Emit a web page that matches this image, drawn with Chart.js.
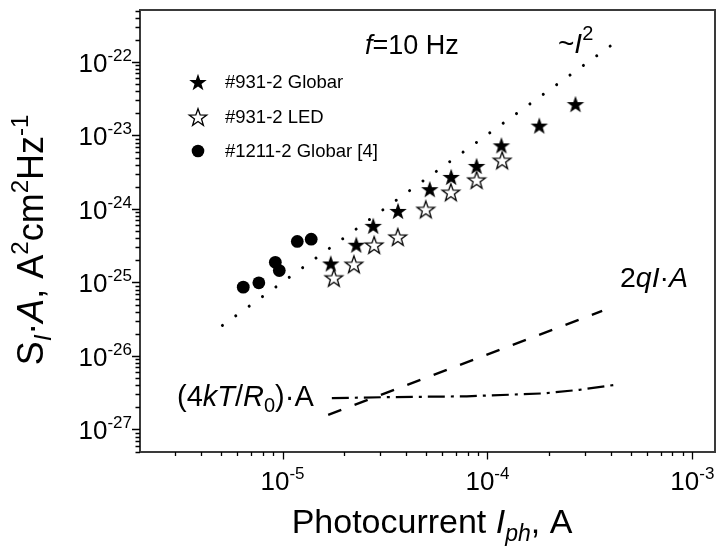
<!DOCTYPE html>
<html><head><meta charset="utf-8">
<script src="https://cdn.jsdelivr.net/npm/chart.js@4/dist/chart.umd.min.js"></script>
<style>html,body{margin:0;padding:0;background:#fff}#wrap{width:725px;height:551px;position:relative}canvas{display:block}</style>
</head><body><div id="wrap"><canvas id="c" width="725" height="551" style="width:725px;height:551px"></canvas></div>
<script>
// ---- data ----
const globarI = [1.72e-5, 2.29e-5, 2.77e-5, 3.66e-5, 5.23e-5, 6.65e-5, 8.85e-5, 1.17e-4, 1.79e-4, 2.69e-4];
const globarS = [1.81e-25, 3.26e-25, 5.89e-25, 9.4e-25, 1.86e-24, 2.73e-24, 3.85e-24, 7.33e-24, 1.36e-23, 2.67e-23];
const ledI = [1.78e-5, 2.23e-5, 2.80e-5, 3.65e-5, 5.0e-5, 6.63e-5, 8.85e-5, 1.18e-4];
const ledS = [1.16e-25, 1.77e-25, 3.24e-25, 4.16e-25, 9.9e-25, 1.69e-24, 2.49e-24, 4.6e-24];
const g1211I = [6.43e-6, 7.66e-6, 9.22e-6, 9.64e-6, 1.18e-5, 1.38e-5];
const g1211S = [8.63e-26, 9.88e-26, 1.88e-25, 1.45e-25, 3.61e-25, 3.88e-25];
const squareLawI = [3.97e-4, 5.06e-6];
const squareLawS = [1.64e-22, 2.57e-26];
const shotI = [1.67e-5, 3.63e-4];
const shotS = [1.58e-27, 4.09e-26];
const thermalI = [1.74e-5, 3.22e-5, 7.92e-5, 1.87e-4, 2.81e-4, 4.25e-4];
const thermalS = [2.66e-27, 2.75e-27, 2.82e-27, 3.09e-27, 3.46e-27, 4.06e-27];
const seriesLabels = ['#931-2 Globar', '#931-2 LED', '#1211-2 Globar [4]'];
const xTickExponents = [-5, -4, -3];
const yTickExponents = [-27, -26, -25, -24, -23, -22];

const FONT = '"Liberation Sans", Arial, Helvetica, sans-serif';
const pts = (xs, ys) => xs.map((x, i) => ({x, y: ys[i]}));

function starImg(filled) {
  const s = 22, c = document.createElement('canvas');
  c.width = s; c.height = s;
  const g = c.getContext('2d');
  const R = 9.2, r = R * 0.40;
  const cx = s / 2, cy = s / 2 + 0.0955 * R;
  g.beginPath();
  for (let i = 0; i < 10; i++) {
    const a = -Math.PI / 2 + i * Math.PI / 5;
    const rr = i % 2 ? r : R;
    const px = cx + rr * Math.cos(a), py = cy + rr * Math.sin(a);
    i ? g.lineTo(px, py) : g.moveTo(px, py);
  }
  g.closePath();
  if (filled) { g.fillStyle = '#000'; g.fill(); }
  else { g.fillStyle = '#fff'; g.fill(); g.lineWidth = 1.3; g.strokeStyle = '#000'; g.lineJoin = 'miter'; g.stroke(); }
  return c;
}
const starFilled = starImg(true), starOpen = starImg(false);

// dotted pattern whose period fits the line length, so both ends carry a dot
function dotPattern(c) {
  const ch = c.chart, xs = ch.scales && ch.scales.x, ys = ch.scales && ch.scales.y;
  if (!xs || !ys || !isFinite(xs.getPixelForValue(squareLawI[0]))) return [0.01, 16.6];
  const dx = xs.getPixelForValue(squareLawI[1]) - xs.getPixelForValue(squareLawI[0]);
  const dy = ys.getPixelForValue(squareLawS[1]) - ys.getPixelForValue(squareLawS[0]);
  const L = Math.hypot(dx, dy);
  if (!(L > 20)) return [0.01, 16.6];
  const n = Math.round(L / 16.6);
  return [0.01, (L - 0.6) / n - 0.01];
}

function seg(t, size, opt) { return Object.assign({t, size}, opt || {}); }
function rich(ctx, segs, x, y, align) {
  let w = 0;
  const f = s => (s.it ? 'italic ' : '') + s.size + 'px ' + FONT;
  segs.forEach(s => { ctx.font = f(s); s.w = ctx.measureText(s.t).width; w += s.w; });
  let cx = align === 'center' ? x - w / 2 : align === 'right' ? x - w : x;
  ctx.textAlign = 'left'; ctx.textBaseline = 'alphabetic';
  segs.forEach(s => { ctx.font = f(s); ctx.fillText(s.t, cx, y + (s.dy || 0)); cx += s.w; });
}

const decor = {
  id: 'decor',
  afterDraw(chart) {
    const {ctx, chartArea: a, scales: {x, y}} = chart;
    ctx.save();
    ctx.fillStyle = '#000';
    ctx.strokeStyle = '#3a3a3a'; ctx.lineWidth = 2;
    ctx.strokeRect(a.left, a.top, a.right - a.left, a.bottom - a.top);
    ctx.strokeStyle = '#000'; ctx.lineWidth = 1.3;
    const logTicks = (sc) => {
      const out = [];
      for (let e = Math.floor(Math.log10(sc.min)); e <= Math.ceil(Math.log10(sc.max)); e++)
        for (let m = 1; m <= 9; m++) { const v = m * Math.pow(10, e); if (v >= sc.min * 0.999 && v <= sc.max * 1.001) out.push({v, major: m === 1}); }
      return out;
    };
    ctx.beginPath();
    logTicks(x).forEach(t => { const px = Math.round(x.getPixelForValue(t.v)) + 0.5; ctx.moveTo(px, a.bottom); ctx.lineTo(px, a.bottom + (t.major ? 7.5 : 4)); });
    logTicks(y).forEach(t => { const py = Math.round(y.getPixelForValue(t.v)) + 0.5; ctx.moveTo(a.left, py); ctx.lineTo(a.left - (t.major ? 8 : 4.5), py); });
    ctx.stroke();
    xTickExponents.forEach(e => {
      const px = x.getPixelForValue(Math.pow(10, e));
      rich(ctx, [seg('10', 26), seg(String(e), 17, {dy: -11})], px, 490, 'center');
    });
    yTickExponents.forEach(e => {
      const py = y.getPixelForValue(Math.pow(10, e));
      rich(ctx, [seg('10', 26), seg(String(e), 17, {dy: -11})], 132, py + 10, 'right');
    });
    rich(ctx, [seg('Photocurrent ', 34), seg('I', 34, {it: true}), seg('ph', 23, {it: true, dy: 8}), seg(', A', 34)], 432, 533, 'center');
    ctx.save();
    ctx.translate(43, 240);
    ctx.rotate(-Math.PI / 2);
    rich(ctx, [seg('S', 36), seg('I', 24, {it: true, dy: 8}), seg('·', 36), seg('A', 36, {it: true}), seg(', A', 36), seg('2', 24, {dy: -15}), seg('cm', 36), seg('2', 24, {dy: -15}), seg('Hz', 36), seg('-1', 24, {dy: -15})], 0, 0, 'center');
    ctx.restore();
    rich(ctx, [seg('f', 27, {it: true}), seg('=10 Hz', 27)], 365, 54, 'left');
    rich(ctx, [seg('~', 28), seg('I', 28, {it: true}), seg('2', 20, {dy: -13})], 558, 53, 'left');
    rich(ctx, [seg('2', 28.5), seg('qI', 28.5, {it: true}), seg('·', 28.5), seg('A', 28.5, {it: true})], 620, 287, 'left');
    rich(ctx, [seg('(4', 29), seg('kT', 29, {it: true}), seg('/', 29), seg('R', 29, {it: true}), seg('0', 20, {dy: 6}), seg(')·A', 29)], 177, 406, 'left');
    const rows = [82, 117, 151];
    const sym = [starFilled, starOpen, null];
    chart.data.datasets.slice(0, 3).forEach((ds, i) => {
      const cy = rows[i];
      if (sym[i]) ctx.drawImage(sym[i], 198 - sym[i].width / 2, cy - sym[i].height / 2);
      else { ctx.beginPath(); ctx.arc(198, cy, 6.3, 0, Math.PI * 2); ctx.fill(); }
      ctx.font = '18.5px ' + FONT; ctx.textBaseline = 'middle'; ctx.textAlign = 'left';
      ctx.fillText(ds.label, 225, cy + 1);
    });
    ctx.restore();
  }
};

new Chart(document.getElementById('c'), {
  type: 'scatter',
  data: {
    datasets: [
      {label: seriesLabels[0], data: pts(globarI, globarS), pointStyle: starFilled, pointRadius: 9, order: 1},
      {label: seriesLabels[1], data: pts(ledI, ledS), pointStyle: starOpen, pointRadius: 9, order: 2},
      {label: seriesLabels[2], data: pts(g1211I, g1211S), pointStyle: 'circle', pointRadius: 6.4, backgroundColor: '#000', borderColor: '#000', borderWidth: 0, order: 3},
      {label: '~I2', data: pts(squareLawI, squareLawS), showLine: true, pointRadius: 0, borderColor: '#000', borderWidth: 3, borderDash: dotPattern, borderCapStyle: 'round', order: 4},
      {label: '2qIA', data: pts(shotI, shotS), showLine: true, pointRadius: 0, borderColor: '#000', borderWidth: 2.4, borderDash: [14, 14.2], order: 5},
      {label: '4kT/R0 A', data: pts(thermalI, thermalS), showLine: true, pointRadius: 0, borderColor: '#000', borderWidth: 2.2, borderDash: [17, 6, 3, 6], order: 6}
    ]
  },
  options: {
    responsive: false,
    animation: false,
    devicePixelRatio: 1,
    layout: {padding: {top: 7, right: 4, left: 0, bottom: 0}},
    plugins: {legend: {display: false}, tooltip: {enabled: false}},
    scales: {
      x: {type: 'logarithmic', min: 2.015e-6, max: 1.29e-3,
          ticks: {display: false}, grid: {display: false, drawTicks: false}, border: {display: false},
          afterFit(s) { s.height = 99; }},
      y: {type: 'logarithmic', min: 4.93e-28, max: 5.09e-22,
          ticks: {display: false}, grid: {display: false, drawTicks: false}, border: {display: false},
          afterFit(s) { s.width = 140; }}
    }
  },
  plugins: [decor]
});
</script>
</body></html>
